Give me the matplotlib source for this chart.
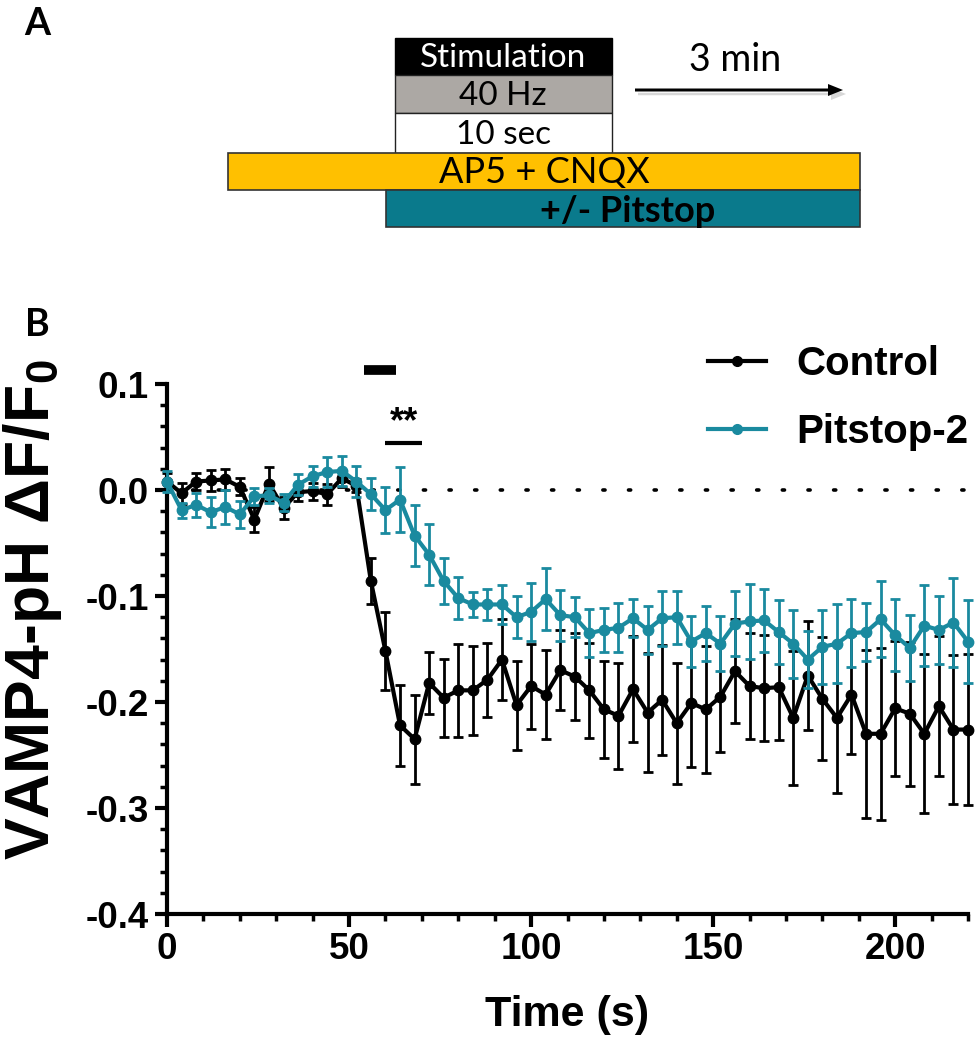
import numpy as np
import matplotlib
matplotlib.use("Agg")
import matplotlib.pyplot as plt
from matplotlib.patches import Rectangle, FancyArrow
from matplotlib.lines import Line2D

# ---- data -------------------------------------------------------------
time_s = list(range(0, 224, 4))

control_mean = [0.008, -0.003, 0.008, 0.009, 0.010, 0.003, -0.028, 0.006, -0.017, -0.002,
                -0.001, -0.004, 0.011, 0.004, -0.086, -0.152, -0.222, -0.235, -0.182, -0.196,
                -0.189, -0.189, -0.179, -0.160, -0.203, -0.185, -0.193, -0.170, -0.176, -0.189,
                -0.207, -0.213, -0.188, -0.210, -0.198, -0.220, -0.201, -0.207, -0.195, -0.171,
                -0.185, -0.187, -0.186, -0.215, -0.175, -0.197, -0.215, -0.193, -0.230, -0.230,
                -0.206, -0.211, -0.230, -0.204, -0.226, -0.226]
control_sem = [0.008, 0.010, 0.008, 0.010, 0.010, 0.008, 0.012, 0.016, 0.010, 0.008,
               0.008, 0.010, 0.008, 0.006, 0.022, 0.037, 0.038, 0.042, 0.029, 0.037,
               0.044, 0.042, 0.035, 0.038, 0.042, 0.040, 0.042, 0.038, 0.041, 0.045,
               0.046, 0.050, 0.050, 0.056, 0.052, 0.057, 0.060, 0.060, 0.052, 0.049,
               0.050, 0.050, 0.050, 0.063, 0.051, 0.058, 0.071, 0.056, 0.079, 0.081,
               0.064, 0.068, 0.075, 0.066, 0.070, 0.071]

pitstop_mean = [0.008, -0.019, -0.014, -0.021, -0.016, -0.023, -0.006, -0.005, -0.012, 0.005,
                0.013, 0.017, 0.018, 0.008, -0.004, -0.019, -0.009, -0.043, -0.061, -0.086,
                -0.102, -0.108, -0.108, -0.108, -0.120, -0.115, -0.103, -0.118, -0.120, -0.135,
                -0.132, -0.130, -0.121, -0.132, -0.121, -0.120, -0.143, -0.135, -0.145, -0.126,
                -0.124, -0.123, -0.134, -0.145, -0.160, -0.148, -0.145, -0.135, -0.134, -0.122,
                -0.137, -0.149, -0.128, -0.132, -0.125, -0.143]
pitstop_sem = [0.010, 0.007, 0.011, 0.014, 0.016, 0.013, 0.008, 0.007, 0.008, 0.010,
               0.010, 0.014, 0.014, 0.015, 0.015, 0.022, 0.031, 0.029, 0.029, 0.022,
               0.020, 0.012, 0.015, 0.018, 0.020, 0.027, 0.029, 0.024, 0.019, 0.023,
               0.021, 0.023, 0.018, 0.023, 0.026, 0.025, 0.024, 0.026, 0.026, 0.031,
               0.035, 0.030, 0.030, 0.032, 0.027, 0.035, 0.037, 0.032, 0.027, 0.036,
               0.034, 0.031, 0.038, 0.032, 0.042, 0.039]

series_labels = ["Control", "Pitstop-2"]
stim_window = [54, 63]          # stimulation bar (s)
signif_window = [60, 70]        # ** comparison (s)

# ---- style ------------------------------------------------------------
plt.rcParams["font.family"] = ["Liberation Sans", "DejaVu Sans"]
plt.rcParams["axes.unicode_minus"] = False
plt.rcParams["mathtext.fontset"] = "custom"
plt.rcParams["mathtext.rm"] = "Liberation Sans:bold"
plt.rcParams["mathtext.bf"] = "Liberation Sans:bold"
plt.rcParams["mathtext.default"] = "rm"

BLACK = "#000000"
TEAL = "#1a8a9f"

W, H = 975, 1043
fig = plt.figure(figsize=(W / 100, H / 100), dpi=100)

# ---- panel A: protocol schematic (pixel coordinates) --------------------
sch = fig.add_axes([0, 0, 1, 1])
sch.set_xlim(0, W)
sch.set_ylim(H, 0)
sch.axis("off")

sfont = ["Lato", "DejaVu Sans"]
sch.text(37, 24, "A", ha="center", va="center", fontsize=27, fontweight="bold", family=sfont)
sch.text(37, 325, "B", ha="center", va="center", fontsize=27, fontweight="bold", family=sfont)

sch.add_patch(Rectangle((395, 38), 217, 37, facecolor="#000000", edgecolor="#000000", lw=1))
sch.text(503, 58, "Stimulation", ha="center", va="center", color="white", fontsize=24, family=sfont)
sch.add_patch(Rectangle((395, 75), 217, 38, facecolor="#aca8a4", edgecolor="#222222", lw=1))
sch.text(503, 96, "40 Hz", ha="center", va="center", color="black", fontsize=24, family=sfont)
sch.add_patch(Rectangle((395, 113), 217, 40, facecolor="white", edgecolor="#222222", lw=1))
sch.text(503, 135, "10 sec", ha="center", va="center", color="black", fontsize=24, family=sfont)
sch.add_patch(Rectangle((228, 153), 632, 37, facecolor="#ffc000", edgecolor="#333333", lw=1.2))
sch.text(544, 173, "AP5 + CNQX", ha="center", va="center", color="black", fontsize=26, family=sfont)
sch.add_patch(Rectangle((386, 190), 474, 37, facecolor="#0a7a8c", edgecolor="#333333", lw=1.2))
sch.text(628, 211, "+/- Pitstop", ha="center", va="center", color="black", fontsize=26,
         fontweight="bold", family=sfont)
sch.text(735, 60, "3 min", ha="center", va="center", color="black", fontsize=27, family=sfont)
sch.add_patch(FancyArrow(638, 94, 208, 0, width=2.5, head_width=12, head_length=15,
                         length_includes_head=True, color="#b0b0b0", alpha=0.5, lw=0))
sch.add_patch(FancyArrow(635, 90, 208, 0, width=3.0, head_width=12, head_length=15,
                         length_includes_head=True, color="black", lw=0))

# ---- panel B: time course ------------------------------------------------
left, right = 167 / W, 968 / W
top, bottom = 384 / H, 914 / H
ax = fig.add_axes([left, 1 - bottom, right - left, bottom - top])

ax.axhline(0, color="black", lw=2.6, dashes=(0.6, 6.5), dash_capstyle="round", zorder=1)

ax.errorbar(time_s, control_mean, yerr=control_sem, color=BLACK, marker="o", ms=7.5,
            lw=3, elinewidth=2, capsize=3.5, capthick=2, zorder=3, clip_on=False)
ax.errorbar(time_s, pitstop_mean, yerr=pitstop_sem, color=TEAL, marker="o", ms=7.5,
            lw=3, elinewidth=2, capsize=3.5, capthick=2, zorder=4, clip_on=False)

ax.set_xlim(0, 220)
ax.set_ylim(-0.4, 0.1)
ax.set_xticks([0, 50, 100, 150, 200])
ax.set_xticks(np.arange(0, 221, 10), minor=True)
ax.set_yticks([0.1, 0.0, -0.1, -0.2, -0.3, -0.4])
ax.set_yticklabels(["0.1", "0.0", "-0.1", "-0.2", "-0.3", "-0.4"])
ax.set_yticks(np.arange(-0.4, 0.101, 0.02), minor=True)

for s in ["top", "right"]:
    ax.spines[s].set_visible(False)
for s in ["left", "bottom"]:
    ax.spines[s].set_linewidth(3)
ax.tick_params(which="major", length=9, width=3, labelsize=26.5, pad=4)
ax.tick_params(which="minor", length=5, width=2.5)
for lab in ax.get_xticklabels() + ax.get_yticklabels():
    lab.set_fontweight("bold")

ax.set_xlabel("Time (s)", fontsize=31, fontweight="bold", labelpad=20)
ax.set_ylabel("VAMP4-pH \u0394F/F$_{0}$", fontsize=45, fontweight="bold")
ax.yaxis.set_label_coords(-0.128, (914 - 610) / 530)

# significance annotations
ax.plot(stim_window, [0.113, 0.113], color="black", lw=7, solid_capstyle="butt", clip_on=False)
ax.plot(signif_window, [0.044, 0.044], color="black", lw=3, solid_capstyle="butt", clip_on=False)
ax.text(np.mean(signif_window), 0.047, "**", ha="center", va="bottom", fontsize=26,
        fontweight="bold")

handles = [Line2D([], [], color=BLACK, marker="o", ms=7, lw=3),
           Line2D([], [], color=TEAL, marker="o", ms=7, lw=3)]
leg = fig.legend(handles, series_labels, loc="upper left", bbox_to_anchor=(708 / W, 1 - 345 / H),
                 frameon=False, prop={"size": 29, "weight": "bold"}, handlelength=1.45,
                 handletextpad=0.75, labelspacing=0.75, borderpad=0, borderaxespad=0)

fig.savefig("out.png", dpi=100)
